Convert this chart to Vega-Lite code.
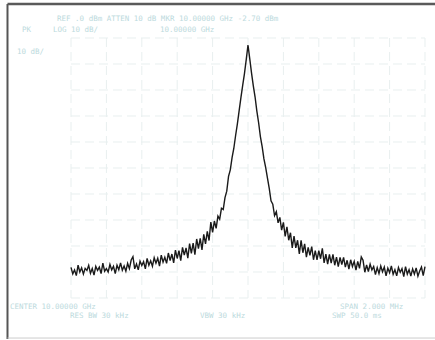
{
  "$schema": "https://vega.github.io/schema/vega-lite/v6.json",
  "width": 428,
  "height": 336,
  "autosize": {"type": "none"},
  "padding": {"left": 7, "top": 3, "right": 0, "bottom": 1},
  "background": "white",
  "data": {"values": [{"k": 1}]},
  "config": {"view": {"stroke": null}, "text": {"font": "DejaVu Sans Mono", "fontSize": 7.5, "color": "#bcdadd", "align": "left", "baseline": "middle"}},
  "datasets": {
    "trace": [
      {"f": -1.00, "a": -88.2}, {"f": -0.99, "a": -90.7}, {"f": -0.98, "a": -89.2}, {"f": -0.97, "a": -91.4}, {"f": -0.96, "a": -87.4},
      {"f": -0.95, "a": -90.0}, {"f": -0.94, "a": -88.4}, {"f": -0.93, "a": -90.8}, {"f": -0.92, "a": -88.6}, {"f": -0.91, "a": -89.4},
      {"f": -0.90, "a": -87.4}, {"f": -0.89, "a": -90.5}, {"f": -0.88, "a": -88.7}, {"f": -0.87, "a": -91.2}, {"f": -0.86, "a": -87.8},
      {"f": -0.85, "a": -89.4}, {"f": -0.84, "a": -88.1}, {"f": -0.83, "a": -90.6}, {"f": -0.82, "a": -86.6}, {"f": -0.81, "a": -89.7},
      {"f": -0.80, "a": -88.7}, {"f": -0.79, "a": -90.0}, {"f": -0.78, "a": -87.1}, {"f": -0.77, "a": -89.2}, {"f": -0.76, "a": -87.8},
      {"f": -0.75, "a": -90.6}, {"f": -0.74, "a": -87.4}, {"f": -0.73, "a": -89.1}, {"f": -0.72, "a": -86.5}, {"f": -0.71, "a": -89.3},
      {"f": -0.70, "a": -87.7}, {"f": -0.69, "a": -89.7}, {"f": -0.68, "a": -86.7}, {"f": -0.67, "a": -88.7}, {"f": -0.66, "a": -85.4},
      {"f": -0.65, "a": -84.1}, {"f": -0.64, "a": -88.8}, {"f": -0.63, "a": -86.9}, {"f": -0.62, "a": -89.2}, {"f": -0.61, "a": -85.8},
      {"f": -0.60, "a": -87.5}, {"f": -0.59, "a": -86.0}, {"f": -0.58, "a": -88.8}, {"f": -0.57, "a": -84.8}, {"f": -0.56, "a": -87.4},
      {"f": -0.55, "a": -85.7}, {"f": -0.54, "a": -87.8}, {"f": -0.53, "a": -84.5}, {"f": -0.52, "a": -86.6}, {"f": -0.51, "a": -84.7},
      {"f": -0.50, "a": -87.7}, {"f": -0.49, "a": -83.5}, {"f": -0.48, "a": -86.2}, {"f": -0.47, "a": -84.3}, {"f": -0.46, "a": -86.7},
      {"f": -0.45, "a": -82.7}, {"f": -0.44, "a": -85.6}, {"f": -0.43, "a": -83.1}, {"f": -0.42, "a": -86.5}, {"f": -0.41, "a": -81.6},
      {"f": -0.40, "a": -84.8}, {"f": -0.39, "a": -81.8}, {"f": -0.38, "a": -85.6}, {"f": -0.37, "a": -80.5}, {"f": -0.36, "a": -83.5},
      {"f": -0.35, "a": -80.7}, {"f": -0.34, "a": -84.7}, {"f": -0.33, "a": -79.1}, {"f": -0.32, "a": -82.8}, {"f": -0.31, "a": -78.9},
      {"f": -0.30, "a": -83.3}, {"f": -0.29, "a": -77.3}, {"f": -0.28, "a": -81.0}, {"f": -0.27, "a": -77.1}, {"f": -0.26, "a": -81.5},
      {"f": -0.25, "a": -75.5}, {"f": -0.24, "a": -79.2}, {"f": -0.23, "a": -74.4}, {"f": -0.22, "a": -77.9}, {"f": -0.21, "a": -70.8},
      {"f": -0.20, "a": -74.8}, {"f": -0.19, "a": -70.4}, {"f": -0.18, "a": -73.2}, {"f": -0.17, "a": -68.5}, {"f": -0.16, "a": -69.7},
      {"f": -0.15, "a": -65.5}, {"f": -0.14, "a": -66.0}, {"f": -0.13, "a": -61.4}, {"f": -0.12, "a": -58.9}, {"f": -0.11, "a": -53.2},
      {"f": -0.10, "a": -50.7}, {"f": -0.09, "a": -46.0}, {"f": -0.08, "a": -42.4}, {"f": -0.07, "a": -37.5}, {"f": -0.06, "a": -33.0},
      {"f": -0.05, "a": -27.9}, {"f": -0.04, "a": -22.9}, {"f": -0.03, "a": -18.2}, {"f": -0.02, "a": -13.7}, {"f": -0.01, "a": -8.3},
      {"f": 0.00, "a": -2.7},
      {"f": 0.01, "a": -8.0}, {"f": 0.02, "a": -13.5}, {"f": 0.03, "a": -18.4}, {"f": 0.04, "a": -22.7}, {"f": 0.05, "a": -28.1},
      {"f": 0.06, "a": -32.6}, {"f": 0.07, "a": -37.9}, {"f": 0.08, "a": -41.8}, {"f": 0.09, "a": -46.5}, {"f": 0.10, "a": -49.9},
      {"f": 0.11, "a": -53.9}, {"f": 0.12, "a": -57.8}, {"f": 0.13, "a": -62.6}, {"f": 0.14, "a": -63.9}, {"f": 0.15, "a": -68.3},
      {"f": 0.16, "a": -66.8}, {"f": 0.17, "a": -71.1}, {"f": 0.18, "a": -69.0}, {"f": 0.19, "a": -73.9}, {"f": 0.20, "a": -70.9},
      {"f": 0.21, "a": -76.3}, {"f": 0.22, "a": -72.6}, {"f": 0.23, "a": -77.8}, {"f": 0.24, "a": -74.9}, {"f": 0.25, "a": -80.7},
      {"f": 0.26, "a": -76.2}, {"f": 0.27, "a": -80.7}, {"f": 0.28, "a": -77.8}, {"f": 0.29, "a": -83.0}, {"f": 0.30, "a": -77.8},
      {"f": 0.31, "a": -82.6}, {"f": 0.32, "a": -79.2}, {"f": 0.33, "a": -84.3}, {"f": 0.34, "a": -80.5}, {"f": 0.35, "a": -83.6},
      {"f": 0.36, "a": -80.2}, {"f": 0.37, "a": -85.3}, {"f": 0.38, "a": -81.8}, {"f": 0.39, "a": -85.3}, {"f": 0.40, "a": -81.8},
      {"f": 0.41, "a": -84.9}, {"f": 0.42, "a": -80.9}, {"f": 0.43, "a": -86.5}, {"f": 0.44, "a": -83.1}, {"f": 0.45, "a": -87.0},
      {"f": 0.46, "a": -83.2}, {"f": 0.47, "a": -86.6}, {"f": 0.48, "a": -83.2}, {"f": 0.49, "a": -87.4}, {"f": 0.50, "a": -84.3},
      {"f": 0.51, "a": -87.9}, {"f": 0.52, "a": -84.4}, {"f": 0.53, "a": -87.1}, {"f": 0.54, "a": -84.4}, {"f": 0.55, "a": -88.1},
      {"f": 0.56, "a": -85.5}, {"f": 0.57, "a": -88.9}, {"f": 0.58, "a": -85.3}, {"f": 0.59, "a": -87.9}, {"f": 0.60, "a": -85.9},
      {"f": 0.61, "a": -89.3}, {"f": 0.62, "a": -85.9}, {"f": 0.63, "a": -88.6}, {"f": 0.64, "a": -84.2}, {"f": 0.65, "a": -85.5},
      {"f": 0.66, "a": -90.1}, {"f": 0.67, "a": -87.3}, {"f": 0.68, "a": -89.8}, {"f": 0.69, "a": -87.0}, {"f": 0.70, "a": -89.2},
      {"f": 0.71, "a": -87.9}, {"f": 0.72, "a": -91.0}, {"f": 0.73, "a": -88.3}, {"f": 0.74, "a": -90.6}, {"f": 0.75, "a": -87.7},
      {"f": 0.76, "a": -89.9}, {"f": 0.77, "a": -88.1}, {"f": 0.78, "a": -91.5}, {"f": 0.79, "a": -88.5}, {"f": 0.80, "a": -90.3},
      {"f": 0.81, "a": -87.7}, {"f": 0.82, "a": -90.9}, {"f": 0.83, "a": -89.1}, {"f": 0.84, "a": -91.5}, {"f": 0.85, "a": -88.3},
      {"f": 0.86, "a": -90.1}, {"f": 0.87, "a": -88.7}, {"f": 0.88, "a": -91.8}, {"f": 0.89, "a": -87.9}, {"f": 0.90, "a": -90.8},
      {"f": 0.91, "a": -89.1}, {"f": 0.92, "a": -91.6}, {"f": 0.93, "a": -88.8}, {"f": 0.94, "a": -90.8}, {"f": 0.95, "a": -88.4},
      {"f": 0.96, "a": -91.6}, {"f": 0.97, "a": -89.6}, {"f": 0.98, "a": -88.1}, {"f": 0.99, "a": -91.4}, {"f": 1.00, "a": -87.9}
    ],
    "vgrid": [
      {"g": -1.0}, {"g": -0.8}, {"g": -0.6}, {"g": -0.4}, {"g": -0.2}, {"g": 0.0},
      {"g": 0.2}, {"g": 0.4}, {"g": 0.6}, {"g": 0.8}, {"g": 1.0}
    ],
    "hgrid": [
      {"l": 0}, {"l": -10}, {"l": -20}, {"l": -30}, {"l": -40}, {"l": -50},
      {"l": -60}, {"l": -70}, {"l": -80}, {"l": -90}, {"l": -100}
    ]
  },
  "layer": [
    {
      "data": {"name": "vgrid"},
      "mark": {"type": "rule", "color": "#e8efef", "strokeWidth": 1, "strokeDash": [9, 5]},
      "encoding": {
        "x": {"field": "g", "type": "quantitative", "scale": {"domain": [-1.3616, 1.0565], "nice": false, "zero": false}, "axis": null},
        "y": {"datum": 0, "type": "quantitative", "scale": {"domain": [-115.77, 13.46], "nice": false, "zero": false}, "axis": null},
        "y2": {"datum": -100}
      }
    },
    {
      "data": {"name": "hgrid"},
      "mark": {"type": "rule", "color": "#e8efef", "strokeWidth": 1, "strokeDash": [9, 5]},
      "encoding": {
        "y": {"field": "l", "type": "quantitative"},
        "x": {"datum": -1},
        "x2": {"datum": 1}
      }
    },
    {
      "data": {"name": "trace"},
      "mark": {"type": "line", "color": "#1a1a1a", "strokeWidth": 1.4, "interpolate": "linear"},
      "encoding": {
        "x": {"field": "f", "type": "quantitative"},
        "y": {"field": "a", "type": "quantitative"}
      }
    },
    {
      "mark": {"type": "rule", "color": "#555555", "strokeWidth": 2},
      "encoding": {"x": {"datum": -1.3588}, "y": {"datum": 13.08}, "y2": {"datum": -115.77}}
    },
    {
      "mark": {"type": "rule", "color": "#5a5a5a", "strokeWidth": 2.5},
      "encoding": {"y": {"datum": 13.08}, "x": {"datum": -1.3588}, "x2": {"datum": 1.0565}}
    },
    {
      "mark": {"type": "rule", "color": "#cccccc", "strokeWidth": 1},
      "encoding": {"y": {"datum": -115.4}, "x": {"datum": -1.3588}, "x2": {"datum": 1.0565}}
    },
    {"mark": {"type": "text"}, "encoding": {"x": {"datum": -1.079}, "y": {"datum": 7.3}, "text": {"value": "REF .0 dBm   ATTEN 10 dB   MKR 10.00000 GHz  -2.70 dBm"}}},
    {"mark": {"type": "text"}, "encoding": {"x": {"datum": -1.277}, "y": {"datum": 3.1}, "text": {"value": "PK"}}},
    {"mark": {"type": "text"}, "encoding": {"x": {"datum": -1.102}, "y": {"datum": 3.1}, "text": {"value": "LOG  10  dB/"}}},
    {"mark": {"type": "text"}, "encoding": {"x": {"datum": -0.497}, "y": {"datum": 3.1}, "text": {"value": "10.00000 GHz"}}},
    {"mark": {"type": "text"}, "encoding": {"x": {"datum": -1.305}, "y": {"datum": -5.4}, "text": {"value": "10 dB/"}}},
    {"mark": {"type": "text"}, "encoding": {"x": {"datum": -1.345}, "y": {"datum": -103.5}, "text": {"value": "CENTER  10.00000 GHz"}}},
    {"mark": {"type": "text"}, "encoding": {"x": {"datum": -1.006}, "y": {"datum": -106.9}, "text": {"value": "RES BW 30 kHz"}}},
    {"mark": {"type": "text"}, "encoding": {"x": {"datum": -0.271}, "y": {"datum": -106.9}, "text": {"value": "VBW 30 kHz"}}},
    {"mark": {"type": "text"}, "encoding": {"x": {"datum": 0.52}, "y": {"datum": -103.5}, "text": {"value": "SPAN 2.000 MHz"}}},
    {"mark": {"type": "text"}, "encoding": {"x": {"datum": 0.475}, "y": {"datum": -106.9}, "text": {"value": "SWP 50.0 ms"}}}
  ]
}
